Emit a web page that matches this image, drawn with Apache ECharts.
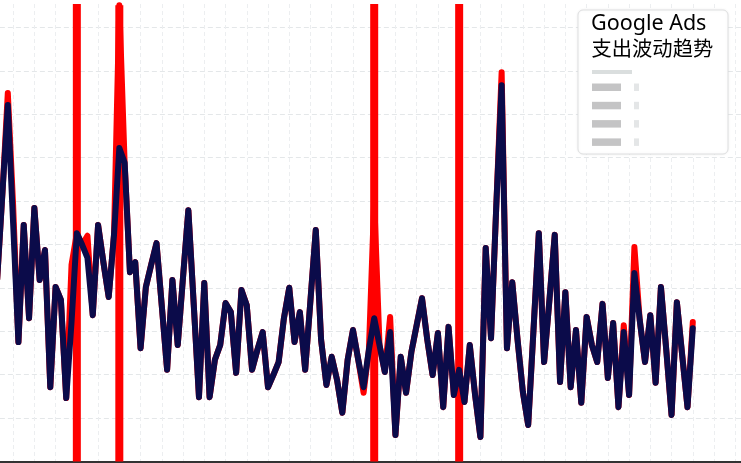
<!DOCTYPE html>
<html><head><meta charset="utf-8">
<script src="https://cdn.jsdelivr.net/npm/echarts@6/dist/echarts.min.js"></script>
<style>html,body{margin:0;padding:0;background:#fff}#c{width:741px;height:463px}</style>
</head><body><div id="c"></div>
<script>
// Day index (x) for each observation
const days = [-1,0,1,2,3,4,5,6,7,8,9,10,11,12,13,14,15,16,17,18,19,20,21,22,23,24,25,26,27,28,29,30,31,32,33,34,35,36,37,38,39,40,41,42,43,44,45,46,47,48,49,50,51,52,53,54,55,56,57,58,59,60,61,62,63,64,65,66,67,68,69,70,71,72,73,74,75,76,77,78,79,80,81,82,83,84,85,86,87,88,89,90,91,92,93,94,95,96,97,98,99,100,101,102,103,104,105,106,107,108,109,110,111,112,113,114,115,116,117,118,119,120,121,122,123,124,125,126,127,128,129,130];
// Smoothed spend (navy)
const spend = [420,621,821,549,275,545,330,584,418,487,
  171,402,372,146,321,526,499,469,337,545,
  459,379,522,722,688,436,459,261,402,453,
  503,358,211,418,268,425,579,365,148,411,
  148,234,268,365,344,204,395,360,211,257,
  298,171,199,229,330,400,275,344,211,372,
  533,280,176,241,188,112,234,303,234,171,
  257,330,268,206,298,61,241,158,252,314,
  376,280,199,296,125,310,153,211,137,268,
  153,56,492,284,591,867,261,413,280,160,
  84,303,526,229,372,522,183,390,171,303,
  135,333,268,229,363,192,319,125,298,153,
  434,326,229,337,181,402,257,107,367,245,
  125,307];
// Raw spend (red)
const rawSpend = [420,621,849,591,275,545,330,584,418,487,
  171,402,372,146,453,526,499,520,337,545,
  459,379,522,1051,688,436,459,261,402,453,
  503,358,211,418,268,425,579,365,148,411,
  148,234,268,365,344,204,395,360,211,257,
  298,171,199,229,330,400,275,344,211,372,
  533,280,176,241,188,112,234,303,234,158,
  257,602,268,206,333,61,241,158,252,314,
  376,280,199,296,125,310,153,211,137,268,
  153,56,492,284,591,897,261,413,280,160,
  84,303,526,229,372,522,183,390,171,303,
  135,333,268,229,363,192,319,125,314,153,
  494,326,229,337,181,402,257,107,367,245,
  125,321];
// Anomaly spikes
const spikeDays = [14, 22, 70, 86];
const spikeValues = [3000, 1051, 3000, 3000];
const titleLines = ['Google Ads', '支出波动趋势'];

const chart = echarts.init(document.getElementById('c'), null, {renderer: 'canvas'});
const FONT = "'Noto Sans', 'Noto Sans CJK SC', sans-serif";
const legendRows = [0, 1, 2, 3];

const graphicEls = [
  {type: 'rect', left: 577.5, top: 9.5, z: 100,
   shape: {width: 150, height: 144, r: 5},
   style: {fill: '#ffffff', stroke: '#dedfe0', lineWidth: 1, shadowBlur: 3, shadowColor: 'rgba(0,0,0,0.06)'}},
  {type: 'text', left: 591, top: 13, z: 101,
   style: {text: titleLines[0], font: '21.5px ' + FONT, fill: '#000000'}},
  {type: 'text', left: 591.5, top: 40, z: 101,
   style: {text: titleLines[1], font: '20.3px ' + FONT, fill: '#000000'}},
  {type: 'rect', left: 592, top: 70, z: 101, shape: {width: 40, height: 4}, style: {fill: '#dadede'}}
];
legendRows.forEach(function (r) {
  graphicEls.push({type: 'rect', left: 592, top: 83.5 + r * 18.3, z: 101,
    shape: {width: 29, height: 7.5}, style: {fill: '#c4c4c5'}});
  graphicEls.push({type: 'rect', left: 634, top: 83.5 + r * 18.3, z: 101,
    shape: {width: 5, height: 7.5}, style: {fill: '#e4e6e7'}});
});

chart.setOption({
  animation: false,
  backgroundColor: '#ffffff',
  grid: {left: -8.12, top: 4, width: 754.02, height: 457.4, containLabel: false, outerBoundsMode: 'none'},
  xAxis: {
    type: 'value', min: -2, max: 140, interval: 4,
    axisLine: {show: true, onZero: false, lineStyle: {color: '#333333', width: 2}},
    axisTick: {show: false}, axisLabel: {show: false},
    splitLine: {show: true, lineStyle: {color: '#eceef0', width: 1, type: [4, 3]}}
  },
  yAxis: {
    type: 'value', min: 0, max: 1054, interval: 100,
    axisLine: {show: false}, axisTick: {show: false}, axisLabel: {show: false},
    splitLine: {show: true, showMaxLine: false, lineStyle: {color: '#e4e7e9', width: 1, type: [5, 3]}}
  },
  series: [
    {type: 'bar', name: '异常', barWidth: 8, z: 1, silent: true,
     itemStyle: {color: '#ff0000'},
     data: spikeDays.map(function (d, i) { return [d, spikeValues[i]]; })},
    {type: 'line', name: '原始支出', z: 2, showSymbol: false, silent: true,
     lineStyle: {color: '#ff0000', width: 6, join: 'round', cap: 'round'},
     data: days.map(function (d, i) { return [d, rawSpend[i]]; })},
    {type: 'line', name: '平滑支出', z: 3, showSymbol: false, silent: true,
     lineStyle: {color: '#0b0b4a', width: 6, join: 'round', cap: 'round'},
     data: days.map(function (d, i) { return [d, spend[i]]; })}
  ],
  graphic: graphicEls
});
</script>
</body></html>
